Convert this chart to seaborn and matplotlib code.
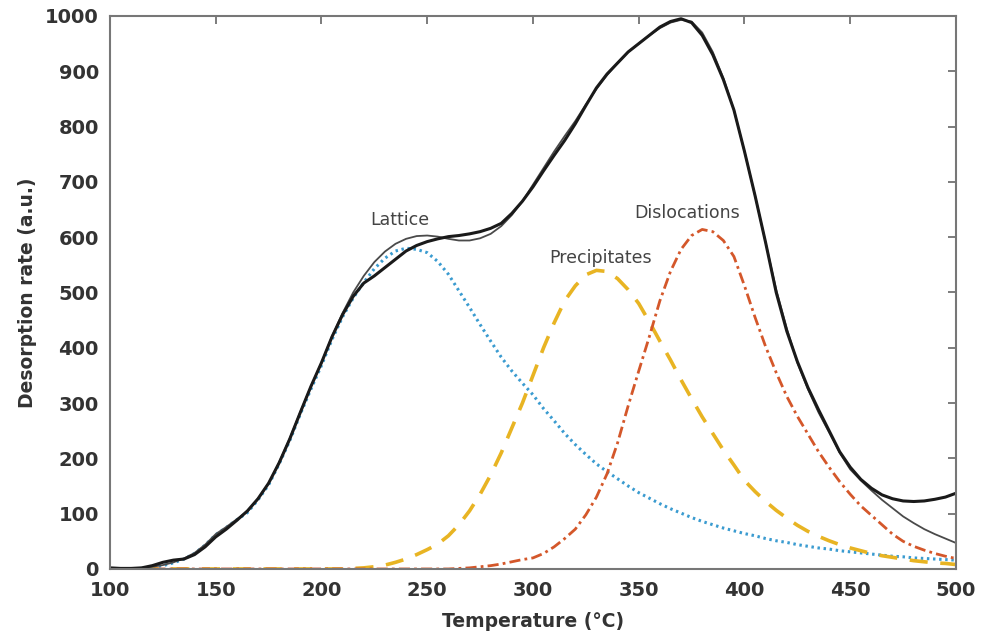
import numpy as np
import pandas as pd
import matplotlib
matplotlib.use("Agg")
import matplotlib.pyplot as plt
import seaborn as sns

temperature = list(range(100, 505, 5))

experimental = [2, 1, 1, 2, 6, 12, 16, 18, 26, 40, 58, 72, 88, 105, 127, 155, 192, 235, 283, 330,
                373, 420, 460, 493, 517, 530, 545, 560, 575, 585, 592, 597, 601, 603, 606, 610, 616, 625,
                643, 665, 691, 720, 748, 775, 805, 838, 870, 895, 915, 935, 950, 965, 980, 990, 995,
                988, 965, 930, 885, 830, 755, 675, 590, 500, 430, 375, 328, 288, 250, 212, 184, 162,
                146, 134, 127, 123, 122, 123, 126, 130, 137]

fit_total = [0, 0, 1, 2, 4, 7, 12, 19, 29, 44, 63, 76, 90, 104, 127, 155, 193, 236, 284, 330,
             373, 421, 463, 500, 530, 555, 574, 588, 597, 602, 603, 601, 597, 594, 594, 598, 606, 620,
             640, 665, 695, 725, 755, 783, 810, 840, 868, 893, 915, 935, 950, 965, 978, 988, 993,
             990, 970, 935, 888, 830, 755, 675, 590, 505, 435, 373, 325, 283, 247, 210, 180, 160,
             142, 125, 110, 95, 83, 72, 63, 55, 47]

lattice = [0, 0, 0, 1, 3, 6, 11, 18, 28, 43, 62, 75, 89, 102, 125, 152, 190, 232, 280, 325,
           368, 415, 456, 490, 518, 543, 562, 575, 580, 578, 572, 556, 533, 503, 473, 442, 412, 383,
           358, 336, 315, 290, 268, 245, 225, 207, 190, 176, 163, 150, 138, 128, 118, 109, 101,
           93, 86, 80, 74, 69, 64, 60, 55, 51, 48, 44, 41, 38, 36, 33, 31, 29, 27, 25, 23, 22,
           20, 19, 18, 17, 16]

precipitates = [0, 0, 0, 0, 0, 0, 0, 0, 0, 0, 0, 0, 0, 0, 0, 0, 0, 0, 0, 0, 0, 0, 0, 1,
                2, 4, 7, 12, 18, 26, 35, 45, 60, 80, 105, 135, 170, 210, 255, 300, 350, 400, 445,
                485, 512, 532, 540, 538, 525, 505, 480, 447, 412, 378, 342, 308, 275, 245, 215, 188,
                160, 140, 122, 106, 92, 79, 68, 59, 51, 44, 38, 33, 28, 24, 21, 18, 15, 13, 11, 10, 8]

dislocations = [0, 0, 0, 0, 0, 0, 0, 0, 0, 0, 0, 0, 0, 0, 0, 0, 0, 0, 0, 0, 0, 0, 0, 0, 0,
                0, 0, 0, 0, 0, 0, 0, 0, 1, 2, 4, 6, 9, 13, 17, 20, 28, 40, 55, 72, 98, 130, 172,
                228, 295, 358, 420, 485, 538, 578, 603, 614, 610, 594, 565, 512, 455, 402, 355, 312,
                276, 244, 212, 184, 158, 135, 114, 97, 80, 63, 50, 41, 34, 28, 23, 19]

labels = ["Lattice", "Precipitates", "Dislocations"]
label_T = [237, 332, 373]
label_v = [631, 562, 644]

df = pd.DataFrame({
    "T": temperature,
    "experimental": experimental,
    "fit": fit_total,
    "lattice": lattice,
    "precipitates": precipitates,
    "dislocations": dislocations,
})

sns.set_style("white")
plt.rcParams["font.family"] = ["DejaVu Sans"]

fig = plt.figure(figsize=(9.87, 6.37), dpi=100)
ax = fig.add_axes([0.1114, 0.1068, 0.8572, 0.8681])

sns.lineplot(data=df, x="T", y="lattice", ax=ax, color="#3a9bd0", lw=2.2,
             linestyle=(0, (0.8, 1.2)))
sns.lineplot(data=df, x="T", y="precipitates", ax=ax, color="#e8b423", lw=2.6,
             linestyle=(0, (5, 3.5)))
sns.lineplot(data=df, x="T", y="dislocations", ax=ax, color="#d4572a", lw=2.0,
             linestyle=(0, (4, 1.5, 1, 1.5)))
sns.lineplot(data=df, x="T", y="fit", ax=ax, color="#4a4a4a", lw=1.3)
sns.lineplot(data=df, x="T", y="experimental", ax=ax, color="#1a1a1a", lw=2.2)

for lab, t, v in zip(labels, label_T, label_v):
    ax.text(t, v, lab, ha="center", va="center", fontsize=12.5, color="#444444")

ax.set_xlim(100, 500)
ax.set_ylim(0, 1000)
ax.set_xticks(range(100, 501, 50))
ax.set_yticks(range(0, 1001, 100))
ax.tick_params(direction="in", length=6, width=1.2, color="#666666",
               top=True, right=True, labelsize=14, labelcolor="#333333")
ax.tick_params(axis="x", pad=9)
ax.tick_params(axis="y", pad=8)
for lbl in ax.get_xticklabels() + ax.get_yticklabels():
    lbl.set_fontweight("bold")
for s in ax.spines.values():
    s.set_color("#777777")
    s.set_linewidth(1.5)

ax.set_xlabel("Temperature (°C)", fontsize=13.5, fontweight="bold", color="#333333", labelpad=8)
ax.set_ylabel("Desorption rate (a.u.)", fontsize=13.5, fontweight="bold", color="#333333", labelpad=6)

fig.savefig("out.png", dpi=100)
